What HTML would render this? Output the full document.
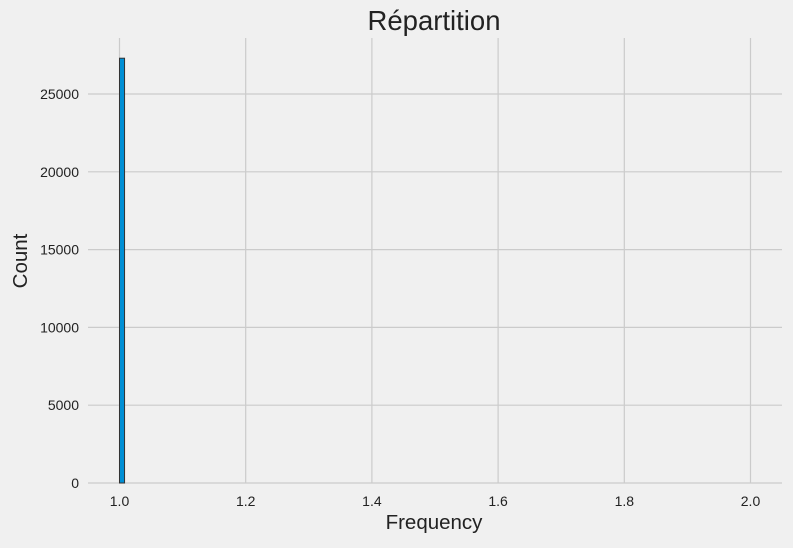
<!DOCTYPE html>
<html><head><meta charset="utf-8"><style>
body{margin:0;background:#f0f0f0;font-family:"Liberation Sans","DejaVu Sans",sans-serif}
</style></head><body>
<svg id="c" width="793" height="543" xmlns="http://www.w3.org/2000/svg">
<rect width="793" height="543" fill="#f0f0f0"/>
<text x="434" y="30" font-size="27.5" text-anchor="middle" fill="#222">Répartition</text>
<text x="434" y="529" font-size="20.5" text-anchor="middle" fill="#222">Frequency</text>
<text transform="translate(27,261) rotate(-90)" font-size="20.5" text-anchor="middle" fill="#222">Count</text>
<g id="grid"></g><g id="bars"></g><g id="ticks"></g>
</svg>
<script>
const binStarts=[1.0];
const binWidth=0.008;
const counts=[27300];
const xTicks=[1.0,1.2,1.4,1.6,1.8,2.0];
const xTickLabels=["1.0","1.2","1.4","1.6","1.8","2.0"];
const yTicks=[0,5000,10000,15000,20000,25000];
const yTickLabels=["0","5000","10000","15000","20000","25000"];
const ns="http://www.w3.org/2000/svg";
const X0=88,X1=782,Y0=38,Y1=483;
const x=v=>119.5+(v-1)*631;
const y=v=>483-v*(77.8/5000);
function mk(t,a,p){const e=document.createElementNS(ns,t);for(const k in a)e.setAttribute(k,a[k]);p.appendChild(e);return e;}
const g=document.getElementById('grid'),tk=document.getElementById('ticks'),b=document.getElementById('bars');
xTicks.forEach((v,i)=>{
 const l=mk('line',{x1:x(v),x2:x(v),y1:Y0,y2:Y1,stroke:'#cbcbcb','stroke-width':1.2},g);
 
 
 const t=mk('text',{x:x(v),y:506,'font-size':14,'text-anchor':'middle',fill:'#222'},tk);t.textContent=xTickLabels[i];
 
 
});
yTicks.forEach((v,i)=>{
 const l=mk('line',{x1:X0,x2:X1,y1:y(v),y2:y(v),stroke:'#cbcbcb','stroke-width':1.2},g);
 
 
 const t=mk('text',{x:79,y:y(v)+5,'font-size':14,'text-anchor':'end',fill:'#222'},tk);t.textContent=yTickLabels[i];
 
 
});
binStarts.forEach((s,i)=>{
 const r=mk('rect',{x:x(s),y:y(counts[i]),width:x(s+binWidth)-x(s),height:y(0)-y(counts[i]),fill:'#008fd5',stroke:'#333','stroke-width':1},b);
 
 
});
</script>
</body></html>
